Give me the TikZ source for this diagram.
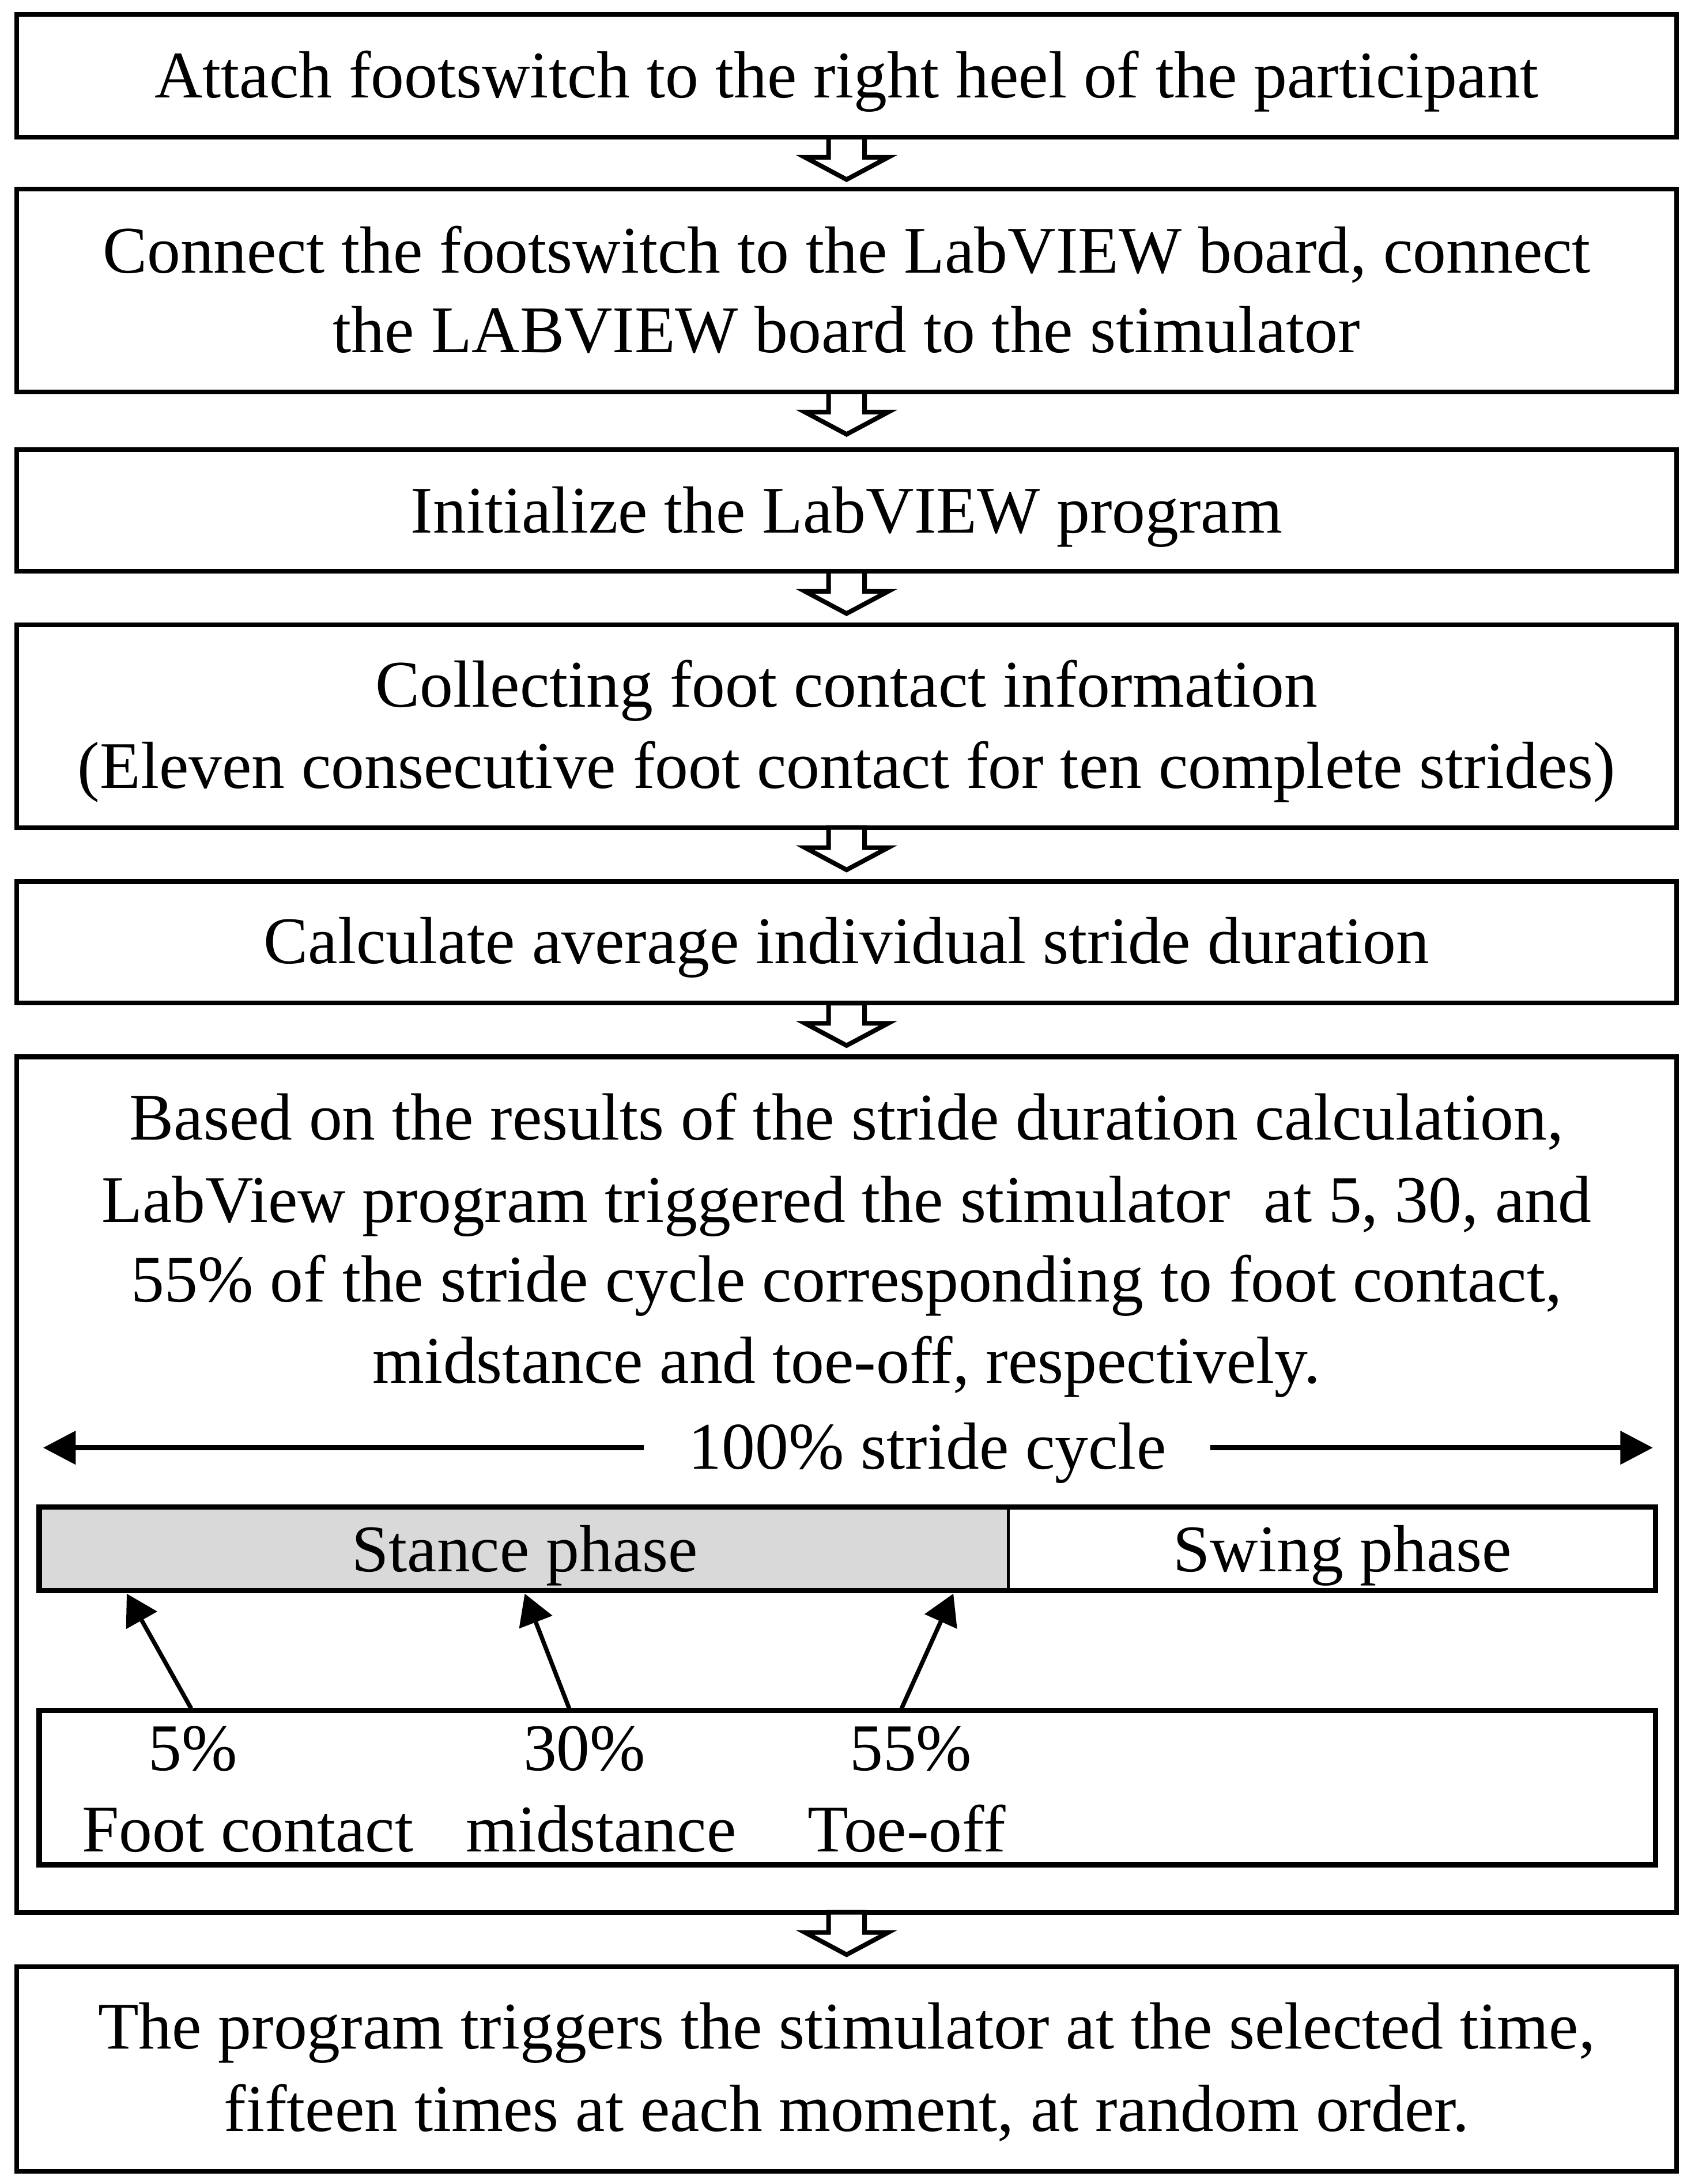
\documentclass[tikz,border=0pt]{standalone}
\usepackage{fontspec}
\setmainfont{Liberation Serif}
\usetikzlibrary{arrows.meta,calc}
\tikzset{
  box/.style={draw, line width=3.4pt, inner sep=0pt, outer sep=0pt, minimum width=1195.6pt},
  txt/.style={anchor=base, inner sep=0pt, font=\fontsize{48}{58}\selectfont},
  blk/.style={draw, fill=white, line width=3.3pt, line join=miter},
  thinarrow/.style={line width=3.1pt, -{Triangle[length=22pt,width=25pt]}},
  cyclearrow/.style={line width=4pt, -{Triangle[length=23.5pt,width=23.5pt]}},
  phase/.style={draw, line width=1.7pt, inner sep=0pt, outer sep=0pt, minimum height=60.2pt},
}
\definecolor{stancegray}{HTML}{D9D9D9}
\newcommand{\blkarrow}[1]{%
  \draw[blk] let \p1=(#1.south) in (\x1-13pt,\y1) -- (\x1-13pt,\y1-14.5pt) -- (\x1-30pt,\y1-14.5pt) -- (\x1,\y1-30.5pt) -- (\x1+30pt,\y1-14.5pt) -- (\x1+13pt,\y1-14.5pt) -- (\x1+13pt,\y1) -- cycle;
}
\begin{document}
\begin{tikzpicture}[x=1pt,y=-1pt]
\useasboundingbox (0,0) rectangle (1218,1573);
% boxes
\node[box, minimum height=88.3pt] (b1) at (609.8,54.65) {};
\node[box, minimum height=146.1pt] (b2) at (609.8,209.25) {};
\node[box, minimum height=87.7pt] (b3) at (609.8,367.55) {};
\node[box, minimum height=146pt] (b4) at (609.8,523) {};
\node[box, minimum height=87.5pt] (b5) at (609.8,678.75) {};
\node[box, minimum height=616.1pt] (b6) at (609.8,1069.25) {};
\node[box, minimum height=147.5pt] (b7) at (609.8,1490.25) {};
% block arrows
\blkarrow{b1}
\blkarrow{b2}
\blkarrow{b3}
\blkarrow{b4}
\blkarrow{b5}
\blkarrow{b6}
% texts
\node[txt] (t1) at (609.8,70.5) {Attach footswitch to the right heel of the participant};
\node[txt] (t2a) at (609.8,196.4) {Connect the footswitch to the LabVIEW board, connect};
\node[txt] (t2b) at (609.8,254) {the LABVIEW board to the stimulator};
\node[txt] (t3) at (609.8,384) {Initialize the LabVIEW program};
\node[txt] (t4a) at (609.8,509) {Collecting foot contact information};
\node[txt] (t4b) at (609.8,567.6) {(Eleven consecutive foot contact for ten complete strides)};
\node[txt] (t5) at (609.8,694) {Calculate average individual stride duration};
\node[txt] (t6a) at (609.8,821) {Based on the results of the stride duration calculation,};
\node[txt] (t6b) at (609.8,880.4) {LabView program triggered the stimulator\ \ at 5, 30, and};
\node[txt] (t6c) at (609.8,937.6) {55\% of the stride cycle corresponding to foot contact,};
\node[txt] (t6d) at (609.8,996) {midstance and toe-off, respectively.};
\node[txt] (t7a) at (609.8,1475.7) {The program triggers the stimulator at the selected time,};
\node[txt] (t7b) at (609.8,1535) {fifteen times at each moment, at random order.};
% stride cycle
\node[txt] (cyc) at (668,1057.8) {100\% stride cycle};
\coordinate (cl) at (463.8,1042.7);
\coordinate (clt) at (31,1042.7);
\coordinate (cr) at (872,1042.7);
\coordinate (crt) at (1190.6,1042.7);
\draw[cyclearrow] (cl) -- (clt);
\draw[cyclearrow] (cr) -- (crt);
% phases
\node[phase, fill=stancegray, minimum width=698.1pt] (stance) at (377.25,1115.6) {};
\node[phase, minimum width=466.3pt] (swing) at (959.45,1115.6) {};
\draw[line width=3.8pt] (stance.north west) rectangle (swing.south east);
\node[txt] (ts) at (378,1132) {Stance phase};
\node[txt] (tw) at (967,1132) {Swing phase};
% labels box
\node[draw, line width=3.8pt, inner sep=0pt, outer sep=0pt, minimum width=1164.4pt, minimum height=111pt] (lab) at (610.4,1287.5) {};
\node[txt] (p1) at (139,1275) {5\%};
\node[txt] (p2) at (421,1275) {30\%};
\node[txt] (p3) at (656,1275) {55\%};
\node[txt] (n1) at (178.5,1333.5) {Foot contact};
\node[txt] (n2) at (433,1333.5) {midstance};
\node[txt] (n3) at (653,1333.5) {Toe-off};
% phase arrows
\coordinate (s1) at (137.7,1230.5);
\coordinate (e1) at (91.3,1147.8);
\coordinate (s2) at (410,1230.5);
\coordinate (e2) at (378,1147.8);
\coordinate (s3) at (649.4,1230.5);
\coordinate (e3) at (686.7,1147.8);
\draw[thinarrow] (s1) -- (e1);
\draw[thinarrow] (s2) -- (e2);
\draw[thinarrow] (s3) -- (e3);
\end{tikzpicture}
\end{document}
